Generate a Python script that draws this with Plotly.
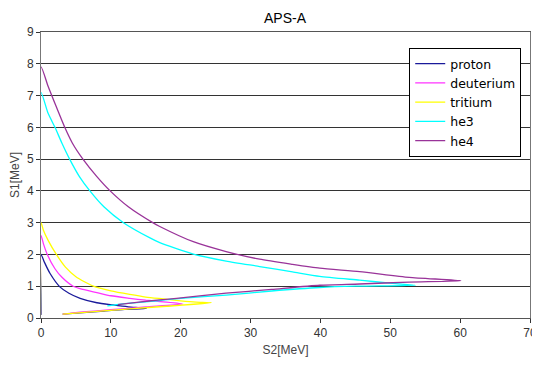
import plotly.graph_objects as go

names = ["proton", "deuterium", "tritium", "he3", "he4"]
colors = ["#1a1a9a", "#ff33ff", "#ffff00", "#00ffff", "#993399"]

proton_s2 = [0, 0, 0.5, 1.3, 2.7, 4, 5.6, 8, 10.3, 12.5, 15.1, 12, 9, 6, 3.1]
proton_s1 = [0.1, 2.0, 1.75, 1.40, 0.98, 0.78, 0.62, 0.48, 0.41, 0.35, 0.30, 0.27, 0.22, 0.17, 0.12]

deuterium_s2 = [0, 0, 0.4, 0.9, 2, 3, 4.6, 6, 8, 10, 12.7, 15, 17.5, 20.3, 15, 10, 6, 3.1]
deuterium_s1 = [0.1, 2.6, 2.3, 2.0, 1.55, 1.28, 1.0, 0.9, 0.8, 0.7, 0.62, 0.56, 0.51, 0.44, 0.35, 0.26, 0.19, 0.12]

tritium_s2 = [0, 0, 0.33, 1, 2.2, 3.5, 5, 7.5, 10, 12.7, 15, 17.5, 20, 22.2, 24.4, 18, 12.7, 8, 3.1]
tritium_s1 = [0.1, 3.0, 2.77, 2.45, 2.0, 1.6, 1.3, 1.0, 0.85, 0.74, 0.66, 0.60, 0.54, 0.50, 0.48, 0.37, 0.29, 0.21, 0.12]

he3_s2 = [0, 0, 1, 2, 3, 4.1, 5.5, 7, 9, 11.8, 15.6, 17, 21.8, 26.5, 31.3, 36, 39.9, 45.6, 50.3, 53.6,
          45, 39.9, 33, 26.5, 20, 17, 12, 9.5]
he3_s1 = [0.1, 7.1, 6.45, 6.0, 5.5, 5.0, 4.45, 4.0, 3.5, 3.0, 2.52, 2.37, 2.01, 1.79, 1.62, 1.45, 1.31, 1.19, 1.09, 1.03,
          1.0, 0.96, 0.85, 0.72, 0.62, 0.55, 0.45, 0.38]

he4_s2 = [0, 0, 1, 2, 3.4, 4.5, 6, 8, 9.9, 12.5, 16, 17, 21.8, 26.5, 31.3, 36, 39.9, 45.6, 52.7, 60.1,
          52.7, 45.6, 39.9, 33, 26.5, 19.4, 17, 14, 11]
he4_s1 = [0.1, 7.9, 7.3, 6.75, 6.0, 5.5, 5.0, 4.45, 4.0, 3.5, 3.0, 2.88, 2.40, 2.09, 1.85, 1.69, 1.57, 1.46, 1.28, 1.17,
          1.13, 1.07, 1.03, 0.9, 0.78, 0.62, 0.57, 0.5, 0.42]

xs = [proton_s2, deuterium_s2, tritium_s2, he3_s2, he4_s2]
ys = [proton_s1, deuterium_s1, tritium_s1, he3_s1, he4_s1]

fig = go.Figure()
for n, c, x, y in zip(names, colors, xs, ys):
    fig.add_trace(go.Scatter(x=x, y=y, mode="lines", name=n,
                             line=dict(color=c, width=1.3, shape="spline", smoothing=0.6)))

font = "Liberation Sans, Arial, sans-serif"
fig.update_layout(
    width=540, height=351,
    margin=dict(l=33, r=18, t=24, b=41, autoexpand=False),
    paper_bgcolor="white", plot_bgcolor="white",
    title=dict(text="APS-A", x=0.513, xanchor="center", y=0.9715, yanchor="middle",
               font=dict(family=font, size=14, color="#000")),
    font=dict(family=font, size=12, color="#333"),
    xaxis=dict(range=[0, 70], dtick=10, showgrid=False, zeroline=False, automargin=False,
               showline=True, linecolor="#555", linewidth=1, mirror=True,
               ticks="outside", ticklen=4, tickcolor="#333",
               title=dict(text="S2[MeV]", font=dict(size=12, color="#444"), standoff=6)),
    yaxis=dict(range=[0, 9], dtick=1, showgrid=True, gridcolor="#333", gridwidth=1.3,
               zeroline=False, showline=True, linecolor="#777", linewidth=1, mirror=True,
               automargin=False,
               ticks="outside", ticklen=4, tickcolor="#333",
               title=dict(text="S1[MeV]", font=dict(size=12, color="#444"), standoff=8)),
    legend=dict(x=0.753, y=0.944, xanchor="left", yanchor="top",
                bgcolor="white", bordercolor="#000", borderwidth=1,
                font=dict(family="DejaVu Sans, sans-serif", size=12.5, color="#000"),
                itemwidth=30, tracegroupgap=0),
    showlegend=True,
)
fig.write_html("out.html")
